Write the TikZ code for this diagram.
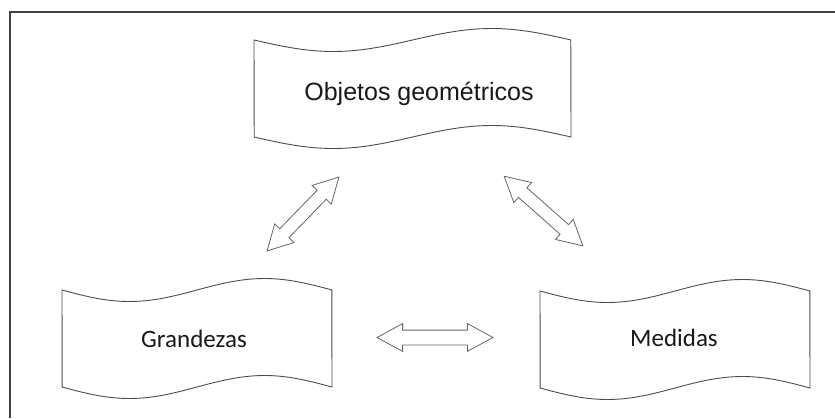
\documentclass[tikz,border=0pt]{standalone}
\usepackage{fontspec}
\setmainfont{Liberation Sans}
\newfontfamily\calibfont{Carlito}
\usetikzlibrary{shapes.arrows}
\tikzset{
  tapeline/.style={draw=black!70, line width=0.9pt},
  framelines/.style={draw=black!75, line width=2pt},
  blockarrow/.style={double arrow, draw=black!60, line width=0.8pt, fill=white,
    double arrow tip angle=57, double arrow head indent=0pt},
  labeltext/.style={anchor=base, inner sep=0pt, text=black!90},
}
\newcommand\tapeshape[4]{% left, top, width, height
  \draw[tapeline] plot[domain=0:1,samples=60] ({#1+#3*\x},{#2+11.5*sin(360*\x)})
    -- plot[domain=1:0,samples=60] ({#1+#3*\x},{#2+#4+11.5*sin(360*\x)}) -- cycle;
}
\begin{document}
\begin{tikzpicture}[x=1pt,y=-1pt]
\useasboundingbox (0,0) rectangle (835,418);
\fill[white] (0,0) rectangle (835,418);
% frame
\draw[framelines] (9.5,418) -- (9.5,11.5) -- (835,11.5);
% tapes
\tapeshape{254}{40}{317}{97}
\tapeshape{62}{290}{270}{97}
\tapeshape{540}{291}{270}{97}
% labels
\node[labeltext, font=\fontsize{25}{28}\selectfont] (obj) at (419,100) {Objetos geométricos};
\node[labeltext, font=\calibfont\fontsize{25}{28}\selectfont] (gra) at (194,347) {Grandezas};
\node[labeltext, font=\calibfont\fontsize{25}{28}\selectfont] (med) at (674,346) {Medidas};
% block arrows
\node[blockarrow, minimum height=103pt, inner sep=6pt, double arrow head extend=7pt, rotate=45.8] (a1) at (303,214) {};
\node[blockarrow, minimum height=105pt, inner sep=6pt, double arrow head extend=7pt, rotate=-41.5] (a2) at (543.5,211) {};
\node[blockarrow, minimum height=116pt, inner sep=7pt, double arrow head extend=6.5pt] (a3) at (435,337.5) {};
\end{tikzpicture}
\end{document}
